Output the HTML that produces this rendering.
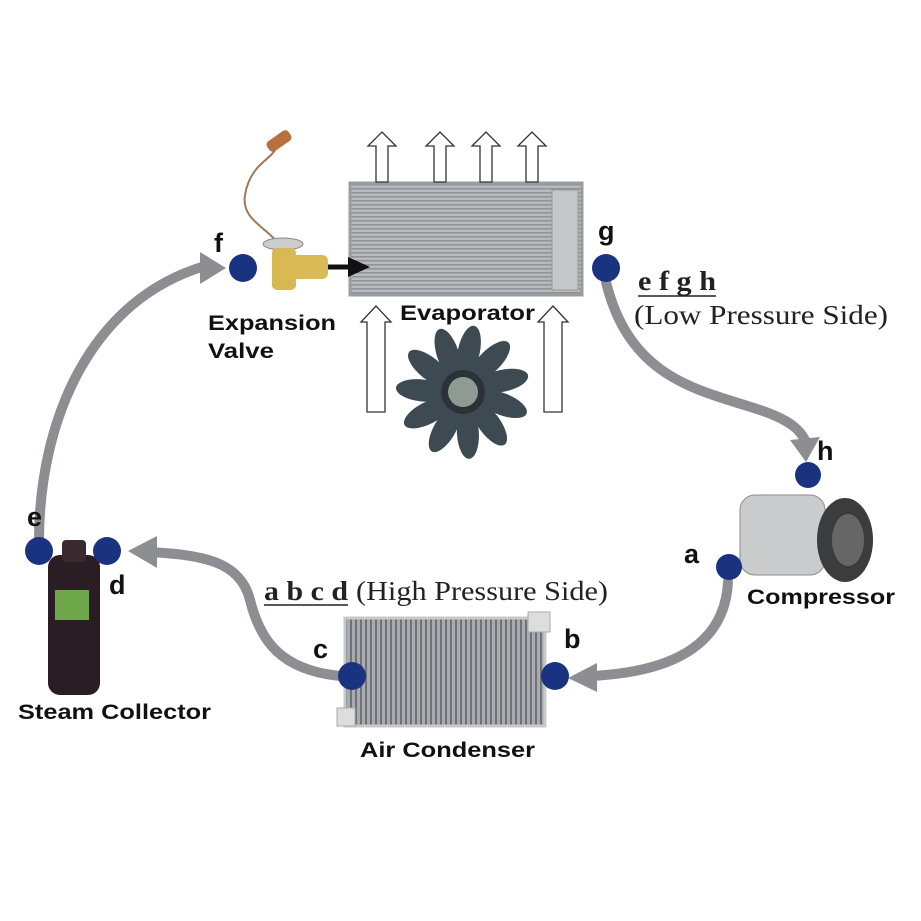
<!DOCTYPE html>
<html><head><meta charset="utf-8"><style>
body{margin:0;background:#fff}
svg{display:block}
.l{font-family:"Liberation Sans",sans-serif;font-weight:bold;fill:#111}
.s{font-family:"Liberation Serif",serif;fill:#222}
</style></head><body>
<svg width="921" height="921" viewBox="0 0 921 921" xmlns="http://www.w3.org/2000/svg">
<defs>
<pattern id="fin" width="4" height="4" patternUnits="userSpaceOnUse"><rect width="4" height="4" fill="#b8bbbe"/><rect width="4" height="1.5" fill="#8e9296"/></pattern>
<pattern id="fin2" width="5" height="5" patternUnits="userSpaceOnUse"><rect width="5" height="5" fill="#a9acaf"/><rect width="2" height="5" fill="#6f7377"/></pattern>
</defs>
<g fill="none" stroke="#8c8e91" stroke-width="10" stroke-linecap="round">
<path d="M39,538 C40,420 90,300 205,266"/>
<path d="M606,282 C630,380 700,390 760,410 C790,420 800,430 805,440"/>
<path d="M728,582 C725,640 680,672 590,676"/>
<path d="M340,676 C280,670 260,640 250,600 C240,560 200,555 150,552"/>
</g>
<g fill="#8c8e91">
<polygon points="200,252 226,268 200,284"/>
<polygon points="790,440 820,437 806,462"/>
<polygon points="597,663 568,678 597,692"/>
<polygon points="157,536 128,551 157,568"/>
</g>
<rect x="350" y="183" width="232" height="112" fill="url(#fin)" stroke="#9a9da0" stroke-width="3"/>
<rect x="552" y="190" width="26" height="100" fill="#c5c8ca" stroke="#999" />
<g fill="#fff" stroke="#333" stroke-width="1.3">
<path d="M376,182 v-36 h-8 l14,-14 l14,14 h-8 v36z"/>
<path d="M434,182 v-36 h-8 l14,-14 l14,14 h-8 v36z"/>
<path d="M480,182 v-36 h-8 l14,-14 l14,14 h-8 v36z"/>
<path d="M526,182 v-36 h-8 l14,-14 l14,14 h-8 v36z"/>
<path d="M367,412 v-90 h-6 l15,-16 l15,16 h-6 v90z"/>
<path d="M544,412 v-90 h-6 l15,-16 l15,16 h-6 v90z"/>
</g>
<g transform="translate(463,392)" fill="#3d4a52">
<g id="bl"><ellipse cx="6" cy="-42" rx="11" ry="26" transform="rotate(12 0 -42)"/></g>
<use href="#bl" transform="rotate(33)"/><use href="#bl" transform="rotate(66)"/><use href="#bl" transform="rotate(99)"/><use href="#bl" transform="rotate(132)"/><use href="#bl" transform="rotate(165)"/><use href="#bl" transform="rotate(198)"/><use href="#bl" transform="rotate(231)"/><use href="#bl" transform="rotate(264)"/><use href="#bl" transform="rotate(297)"/><use href="#bl" transform="rotate(330)"/>
<circle r="22" fill="#2b3338"/><circle r="15" fill="#8f9a92"/>
</g>
<path d="M282,255 C280,230 240,225 245,195 C250,165 270,160 275,150" fill="none" stroke="#a07a5a" stroke-width="2"/>
<rect x="266" y="135" width="26" height="12" rx="4" fill="#b8703f" transform="rotate(-35 279 141)"/>
<ellipse cx="283" cy="244" rx="20" ry="6" fill="#ccc" stroke="#888"/>
<rect x="272" y="248" width="24" height="42" rx="5" fill="#d8b850"/>
<rect x="280" y="255" width="48" height="24" rx="6" fill="#d9ba55"/>
<line x1="328" y1="267" x2="352" y2="267" stroke="#111" stroke-width="5"/>
<polygon points="348,257 370,267 348,277" fill="#111"/>
<rect x="740" y="495" width="85" height="80" rx="15" fill="#c9cbcd" stroke="#8a8c8e"/>
<ellipse cx="845" cy="540" rx="28" ry="42" fill="#3a3c3e"/>
<ellipse cx="848" cy="540" rx="16" ry="26" fill="#666"/>
<rect x="345" y="618" width="200" height="108" fill="url(#fin2)" stroke="#c7c9cb" stroke-width="3"/>
<rect x="528" y="612" width="22" height="20" fill="#ddd" stroke="#aaa"/>
<rect x="337" y="708" width="18" height="18" fill="#ddd" stroke="#aaa"/>
<rect x="48" y="555" width="52" height="140" rx="12" fill="#2a1e24"/>
<rect x="62" y="540" width="24" height="22" rx="4" fill="#3a2a30"/>
<rect x="55" y="590" width="34" height="30" fill="#6fa84a"/>
<g fill="#1a3380">
<circle cx="243" cy="268" r="14"/><circle cx="606" cy="268" r="14"/>
<circle cx="808" cy="475" r="13"/><circle cx="729" cy="567" r="13"/>
<circle cx="555" cy="676" r="14"/><circle cx="352" cy="676" r="14"/>
<circle cx="107" cy="551" r="14"/><circle cx="39" cy="551" r="14"/>
</g>
<g class="l" font-size="27">
<text x="214" y="252">f</text><text x="598" y="240">g</text>
<text x="817" y="460">h</text><text x="684" y="563">a</text>
<text x="564" y="648">b</text><text x="313" y="658">c</text>
<text x="109" y="594">d</text><text x="27" y="526">e</text>
</g>
<g class="l" font-size="21">
<text x="208" y="330" textLength="128" lengthAdjust="spacingAndGlyphs">Expansion</text>
<text x="208" y="358" textLength="66" lengthAdjust="spacingAndGlyphs">Valve</text>
<text x="400" y="320" textLength="135" lengthAdjust="spacingAndGlyphs">Evaporator</text>
<text x="747" y="604" textLength="148" lengthAdjust="spacingAndGlyphs">Compressor</text>
<text x="18" y="719" textLength="193" lengthAdjust="spacingAndGlyphs">Steam Collector</text>
<text x="360" y="757" textLength="175" lengthAdjust="spacingAndGlyphs">Air Condenser</text>
</g>
<g class="s" font-size="27">
<text x="638" y="290" font-weight="bold" textLength="78" lengthAdjust="spacingAndGlyphs">e f g h</text>
<text x="634" y="324" textLength="254" lengthAdjust="spacingAndGlyphs">(Low Pressure Side)</text>
<text x="264" y="600" font-weight="bold" textLength="84" lengthAdjust="spacingAndGlyphs">a b c d</text>
<text x="356" y="600" textLength="252" lengthAdjust="spacingAndGlyphs">(High Pressure Side)</text>
</g>
<line x1="638" y1="296" x2="716" y2="296" stroke="#222" stroke-width="1.5"/>
<line x1="264" y1="605" x2="348" y2="605" stroke="#222" stroke-width="1.5"/>
</svg>
</body></html>
